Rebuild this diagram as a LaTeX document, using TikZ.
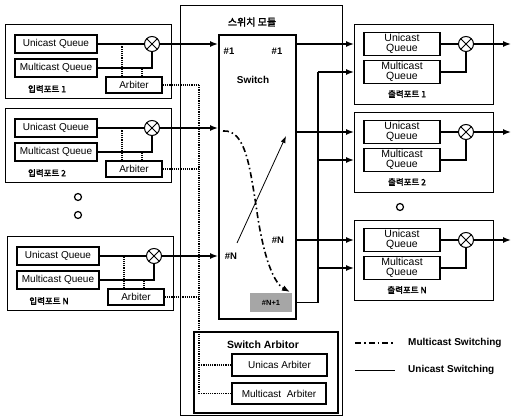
\documentclass[tikz,border=0pt]{standalone}
\usepackage{fontspec}
\setmainfont{Liberation Sans}
\newfontfamily\kr[AutoFakeBold=2.5]{Noto Sans CJK KR}
\usetikzlibrary{arrows.meta}

\begin{document}
\begin{tikzpicture}[x=1pt,y=-1pt,
  every node/.style={inner sep=0pt, font=\fontsize{10}{11}\selectfont},
  qbox/.style={draw, line width=1.6pt, minimum width=82pt, minimum height=18pt},
  oqbox/.style={draw, line width=1.6pt, minimum width=76pt, minimum height=23pt,
    align=center, font=\fontsize{10.5}{10}\selectfont},
  arbbox/.style={draw, line width=1.4pt, minimum width=56pt, minimum height=16pt},
  portbox/.style={draw, line width=1.4pt, anchor=north west},
  mux/.style={draw, circle, line width=1pt, minimum size=15pt,
    path picture={\draw[line width=1pt]
      (path picture bounding box.north west) -- (path picture bounding box.south east)
      (path picture bounding box.south west) -- (path picture bounding box.north east);}},
  portlabel/.style={font=\kr\bfseries\fontsize{8.5}{10}\selectfont},
  swlabel/.style={font=\bfseries\fontsize{9.5}{11}\selectfont},
  wire/.style={line width=1.4pt},
  feed/.style={line width=1.4pt, -{Latex[length=8pt,width=6pt]}},
  ctl/.style={line width=1.4pt, dash pattern=on 1.2pt off 1pt},
  mcast/.style={line width=1.6pt, dash pattern=on 6pt off 3pt on 1.5pt off 3pt},
  ucast/.style={line width=0.8pt},
  gapdot/.style={draw, circle, line width=1.2pt, minimum size=7pt}
]
\useasboundingbox (0,0) rectangle (512,420);

% switch module frame and switch fabric
\node[draw, line width=0.6pt, minimum width=162pt, minimum height=410pt, anchor=north west] (mod) at (180,5) {};
\node[font=\kr\bfseries\fontsize{10}{12}\selectfont] (modt) at (252,22) {스위치 모듈};
\node[draw, line width=1.8pt, minimum width=77pt, minimum height=284pt, anchor=north west] (sw) at (218,34) {};
\node[swlabel] (in1) at (229,51) {\#1};
\node[swlabel] (out1) at (277,51) {\#1};
\node[font=\bfseries\fontsize{10}{12}\selectfont] (swt) at (253,80) {Switch};
\node[swlabel] (inN) at (231,256) {\#N};
\node[swlabel] (outN) at (278,240) {\#N};
\node[fill=black!35, minimum width=42pt, minimum height=19pt, text=black,
      font=\bfseries\fontsize{7.5}{8}\selectfont] (gx) at (271,302.5) {\#N+1};

% switching paths through the fabric
\coordinate (ua0) at (237,243);
\coordinate (ua1) at (286,136);
\draw[ucast, -{Latex[length=7pt,width=5pt]}] (ua0) -- (ua1);
\coordinate (mc0) at (223,131);
\coordinate (mc1) at (256,205);
\coordinate (mc2) at (290,292);
\draw[mcast, -{Latex[length=8pt,width=6pt]}] (mc0) .. controls (246,129) and (250,170) .. (mc1)
  .. controls (262,250) and (272,282) .. (mc2);

% switch arbiter
\node[draw, line width=1.5pt, minimum width=144pt, minimum height=81pt, anchor=north west] (sa) at (193,331) {};
\node[font=\bfseries\fontsize{10.5}{12}\selectfont] (sat) at (263,345) {Switch Arbitor};
\node[draw, line width=1.5pt, minimum width=95pt, minimum height=22pt] (uarb) at (279.5,365) {Unicas Arbiter};
\node[draw, line width=1.5pt, minimum width=94pt, minimum height=21pt] (marb) at (279,393.5) {Multicast\ \ Arbiter};

% control bus towards the switch arbiter
\coordinate (cb) at (199,0);

% input ports
\foreach \p/\ox/\oy in {1/5/24, 2/5/108, N/7/236} {
  \node[portbox, minimum width=166pt, minimum height=74pt] (ip\p) at (\ox,\oy) {};
  \node[qbox] (uq\p) at ({\ox+51},{\oy+20}) {Unicast Queue};
  \node[qbox] (mq\p) at ({\ox+51},{\oy+44}) {Multicast Queue};
  \node[mux] (mx\p) at ({\ox+147},{\oy+20}) {};
  \node[arbbox] (ar\p) at ({\ox+129},{\oy+61}) {Arbiter};
  \node[portlabel] (il\p) at ({\ox+42},{\oy+65}) {입력포트 \p};
  \draw[wire] (uq\p.east) -- (mx\p.west);
  \draw[wire] (mq\p.east) -| (mx\p.south);
  \draw[ctl] ([xshift=-12pt]ar\p.north) -- ([xshift=-12pt]ar\p.north |- mx\p.west);
  \draw[ctl] ([xshift=8pt]ar\p.north) -- ([xshift=8pt]ar\p.north |- mq\p.east);
  \draw[feed] (mx\p.east) -- (mx\p.east -| sw.west);
  \draw[ctl] (ar\p.east) -- (ar\p.east -| cb);
}
\draw[ctl] (ar1.east -| cb) -- (marb.west -| cb);
\draw[ctl] (uarb.west -| cb) -- (uarb.west);
\draw[ctl] (marb.west -| cb) -- (marb.west);

\node[gapdot] (gd1) at (78,197) {};
\node[gapdot] (gd2) at (78,215) {};

% output ports
\coordinate (rt) at (511,0);
\foreach \p/\oy in {1/24, 2/112, N/220} {
  \node[portbox, minimum width=139pt, minimum height=80pt] (op\p) at (354,\oy) {};
  \node[oqbox] (ouq\p) at (402,{\oy+20}) {Unicast\\Queue};
  \node[oqbox] (omq\p) at (402,{\oy+48}) {Multicast\\Queue};
  \node[mux] (omx\p) at (466,{\oy+20}) {};
  \node[portlabel] (ol\p) at (407,{\oy+70}) {출력포트 \p};
  \draw[wire] (ouq\p.east) -- (omx\p.west);
  \draw[wire] (omq\p.east) -| (omx\p.south);
  \draw[feed] (omx\p.east) -- (omx\p.east -| rt);
  \draw[feed] (sw.east |- ouq\p) -- (op\p.west |- ouq\p);
}
\node[gapdot] (gd3) at (400,207) {};

% multicast distribution bus
\coordinate (bx) at (318,0);
\draw[wire] (gx -| sw.east) -- (gx -| bx) -- (bx |- omq1);
\foreach \p in {1,2,N} {
  \draw[feed] (bx |- omq\p) -- (op\p.west |- omq\p);
}

% legend
\coordinate (lg1a) at (355,343);
\coordinate (lg1b) at (395,343);
\coordinate (lg2a) at (355,370);
\coordinate (lg2b) at (395,370);
\draw[mcast] (lg1a) -- (lg1b);
\draw[ucast] (lg2a) -- (lg2b);
\node[font=\bfseries\fontsize{10}{12}\selectfont, anchor=west] (lgt1) at (408,343) {Multicast Switching};
\node[font=\bfseries\fontsize{10}{12}\selectfont, anchor=west] (lgt2) at (408,370) {Unicast Switching};
\end{tikzpicture}
\end{document}
